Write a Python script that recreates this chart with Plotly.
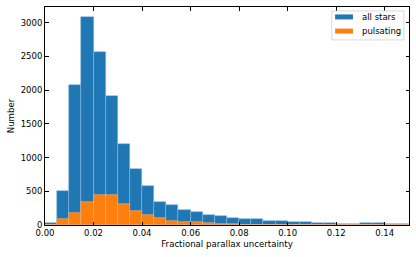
import plotly.graph_objects as go

bin_left = [round(i * 0.005, 3) for i in range(30)]
all_stars = [30, 510, 2070, 3080, 2570, 1920, 1200, 830, 575, 342,
             298, 222, 190, 148, 129, 99, 85, 85, 64, 55,
             45, 40, 35, 35, 20, 20, 28, 26, 15, 15]
pulsating = [0, 87, 178, 342, 450, 440, 310, 208, 155, 99,
             59, 50, 45, 30, 12, 8, 6, 5, 4, 3,
             2, 2, 1, 1, 1, 1, 1, 1, 0, 0]
bin_width = 0.005
x_ticks = [0.00, 0.02, 0.04, 0.06, 0.08, 0.10, 0.12, 0.14]
y_ticks = [0, 500, 1000, 1500, 2000, 2500, 3000]
series_names = ["all stars", "pulsating"]
series_colors = ["#1f77b4", "#ff7f0e"]
edge_colors = ["rgba(140,185,225,0.9)", "rgba(255,180,110,0.9)"]

centers = [b + bin_width / 2 for b in bin_left]

fig = go.Figure()
for vals, name, col, ec in zip([all_stars, pulsating], series_names, series_colors, edge_colors):
    fig.add_trace(go.Bar(x=centers, y=vals, width=bin_width, name=name, showlegend=False,
                         marker=dict(color=col, line=dict(color=ec, width=0.6))))

# matplotlib-style legend drawn in paper coordinates
shapes = [dict(type="rect", xref="paper", yref="paper", x0=0.788, x1=0.986, y0=0.849, y1=0.982,
               line=dict(color="#d0d0d0", width=0.8), fillcolor="rgba(255,255,255,0.8)", layer="above")]
annotations = []
legend_rows = [(0.943, 0.966, 0.954), (0.878, 0.901, 0.890)]
for (y0, y1, yt), name, col in zip(legend_rows, series_names, series_colors):
    shapes.append(dict(type="rect", xref="paper", yref="paper", x0=0.797, x1=0.846, y0=y0, y1=y1,
                       line=dict(width=0), fillcolor=col, layer="above"))
    annotations.append(dict(xref="paper", yref="paper", x=0.866, y=yt, text=name, showarrow=False,
                            xanchor="left", yanchor="middle",
                            font=dict(family="DejaVu Sans", size=8.5, color="black")))

font = dict(family="DejaVu Sans", size=8.5, color="black")
title_font = dict(family="DejaVu Sans", size=8.6, color="black")
fig.update_layout(
    width=416, height=257, barmode="overlay", bargap=0,
    margin=dict(l=45, r=7, t=7, b=32),
    plot_bgcolor="white", paper_bgcolor="white",
    font=font, showlegend=False,
    shapes=shapes, annotations=annotations,
    xaxis=dict(range=[0, 0.15], tickvals=x_ticks, tickformat=".2f",
               ticks="inside", ticklen=3.5, tickcolor="black", showline=True,
               linecolor="black", linewidth=1, mirror="ticks", showgrid=False,
               zeroline=False, automargin=False,
               title=dict(text="Fractional parallax uncertainty", standoff=3, font=title_font)),
    yaxis=dict(range=[0, 3234], tickvals=y_ticks,
               ticks="inside", ticklen=3.5, tickcolor="black", showline=True,
               linecolor="black", linewidth=1, mirror="ticks", showgrid=False,
               zeroline=False, automargin=False,
               title=dict(text="Number", standoff=4, font=title_font)),
)

fig.write_html("out.html", config={"displayModeBar": False},
               post_script="document.body.style.margin='0';document.body.style.overflow='hidden';")
